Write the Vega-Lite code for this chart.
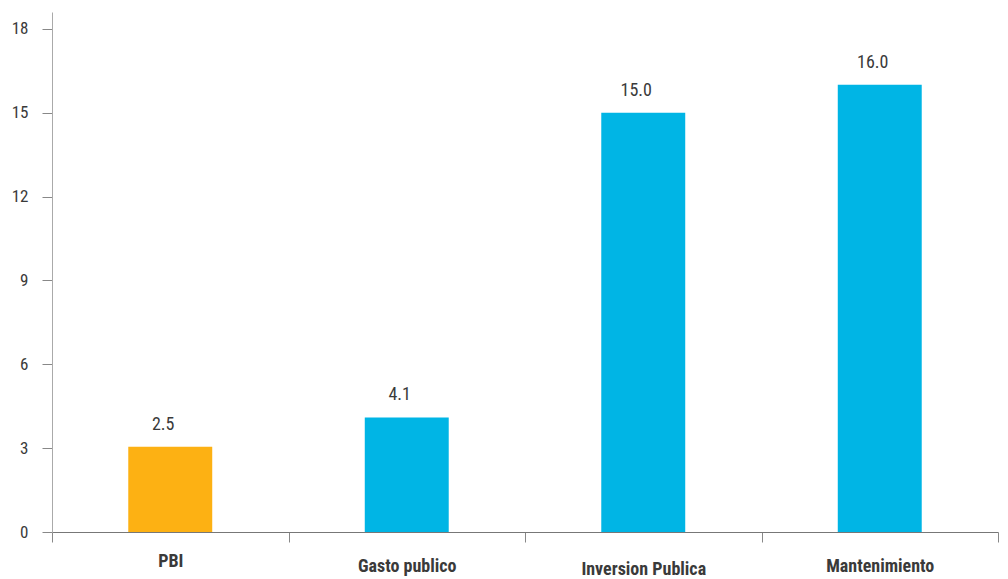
{
  "$schema": "https://vega.github.io/schema/vega-lite/v6.json",
  "width": 946,
  "height": 520,
  "autosize": "none",
  "padding": {"left": 52, "top": 12, "right": 10, "bottom": 47},
  "background": "white",
  "config": {
    "view": {"stroke": null},
    "font": "Roboto Condensed, Liberation Sans Narrow, Roboto"
  },
  "data": {
    "values": [
      {"categoria": "PBI", "valor": 3.05, "etiqueta": "2.5", "grupo": "pbi"},
      {"categoria": "Gasto publico", "valor": 4.1, "etiqueta": "4.1", "grupo": "otro"},
      {"categoria": "Inversion Publica", "valor": 15.0, "etiqueta": "15.0", "grupo": "otro"},
      {"categoria": "Mantenimiento", "valor": 16.0, "etiqueta": "16.0", "grupo": "otro"}
    ]
  },
  "encoding": {
    "x": {
      "field": "categoria",
      "type": "nominal",
      "sort": null,
      "scale": {"paddingInner": 0, "paddingOuter": 0},
      "axis": {
        "title": null,
        "labelAngle": 0,
        "labelFont": "Roboto Condensed, Liberation Sans Narrow, Roboto",
        "labelFontSize": 18,
        "labelFontWeight": "bold",
        "labelColor": "#3a3a3a",
        "labelBaseline": "alphabetic",
        "labelPadding": {
          "condition": [
            {"test": "datum.value === 'PBI'", "value": 24},
            {"test": "datum.value === 'Inversion Publica'", "value": 32}
          ],
          "value": 29
        },
        "tickBand": "extent",
        "tickSize": 10,
        "tickColor": "#888",
        "domainColor": "#777",
        "grid": false
      }
    },
    "y": {
      "field": "valor",
      "type": "quantitative",
      "scale": {"domain": [0, 18.6], "nice": false},
      "axis": {
        "title": null,
        "values": [0, 3, 6, 9, 12, 15, 18],
        "grid": false,
        "tickSize": 10,
        "tickColor": "#888",
        "domainColor": "#aaa",
        "labelPadding": 14,
        "labelFontSize": 17,
        "labelColor": "#3a3a3a",
        "labelFont": "Roboto Condensed, Liberation Sans Narrow, Roboto"
      }
    }
  },
  "layer": [
    {
      "mark": {"type": "bar", "width": {"band": 0.355}},
      "encoding": {
        "color": {
          "field": "grupo",
          "type": "nominal",
          "scale": {"domain": ["pbi", "otro"], "range": ["#FDB113", "#00B5E5"]},
          "legend": null
        }
      }
    },
    {
      "mark": {"type": "text", "baseline": "bottom", "dy": -13, "dx": -7, "fontSize": 18, "color": "#3a3a3a"},
      "encoding": {"text": {"field": "etiqueta"}}
    }
  ]
}
